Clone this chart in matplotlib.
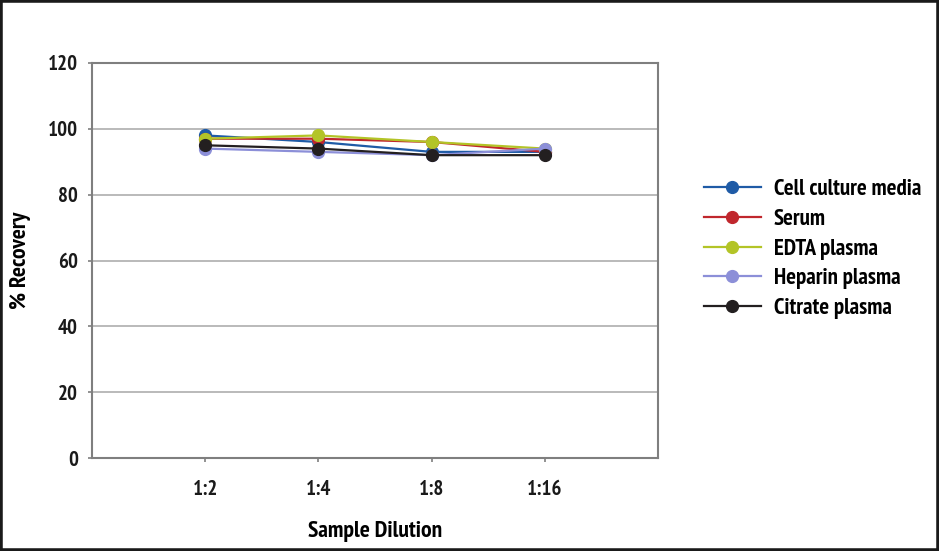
import matplotlib
matplotlib.use("Agg")
import matplotlib.pyplot as plt
from matplotlib.patches import Rectangle

plt.rcParams['font.family'] = ['PT Sans Narrow', 'DejaVu Sans']
plt.rcParams['font.weight'] = 'bold'

dilutions = ["1:2", "1:4", "1:8", "1:16"]
cell_culture = [98, 96, 93, 93]
serum = [97, 97, 96, 93]
edta = [97, 98, 96, 94]
heparin = [94, 93, 92, 94]
citrate = [95, 94, 92, 92]

series = [
    ("Cell culture media", cell_culture, "#1f5ba6"),
    ("Serum", serum, "#c0272d"),
    ("EDTA plasma", edta, "#b3c427"),
    ("Heparin plasma", heparin, "#8c8fd8"),
    ("Citrate plasma", citrate, "#231f20"),
]

fig = plt.figure(figsize=(9.39, 5.51), dpi=100)
ax = fig.add_axes([92/939, 1 - 458/551, (658-92)/939, (458-63)/551])

x = list(range(1, len(dilutions) + 1))
for name, vals, col in series:
    ax.plot(x, vals, color=col, lw=1.6, marker='o', ms=8.5, label=name)

ax.set_xlim(0, 5)
ax.set_ylim(0, 120)
ax.set_yticks(range(0, 121, 20))
ax.set_xticks(x)
ax.set_xticklabels(dilutions)
ax.yaxis.grid(True, color="#b4b4b4", lw=1.3)
ax.set_axisbelow(True)
for s in ax.spines.values():
    s.set_color("#7f7f7f")
    s.set_linewidth(1.5)
ax.tick_params(axis='both', colors="#7f7f7f", labelcolor="#1a1a1a",
               labelsize=15, length=3, width=1.2)
ax.tick_params(axis='y', pad=7)
ax.tick_params(axis='x', pad=13)
ax.set_xlabel("Sample Dilution", fontsize=17, fontweight='bold', labelpad=16)
ax.set_ylabel("% Recovery", fontsize=17, fontweight='bold')
ax.yaxis.set_label_coords(-0.108, 0.5)

fig.legend(loc='center left', bbox_to_anchor=(683/939, 1 - 249/551),
           frameon=False, fontsize=16.5, handlelength=2.5, labelspacing=0.38,
           handletextpad=0.55)

fig.patches.append(Rectangle((0, 0), 1, 1, transform=fig.transFigure,
                             fill=False, edgecolor="#1a1a1a", lw=4))

fig.savefig("out.png", dpi=100)
